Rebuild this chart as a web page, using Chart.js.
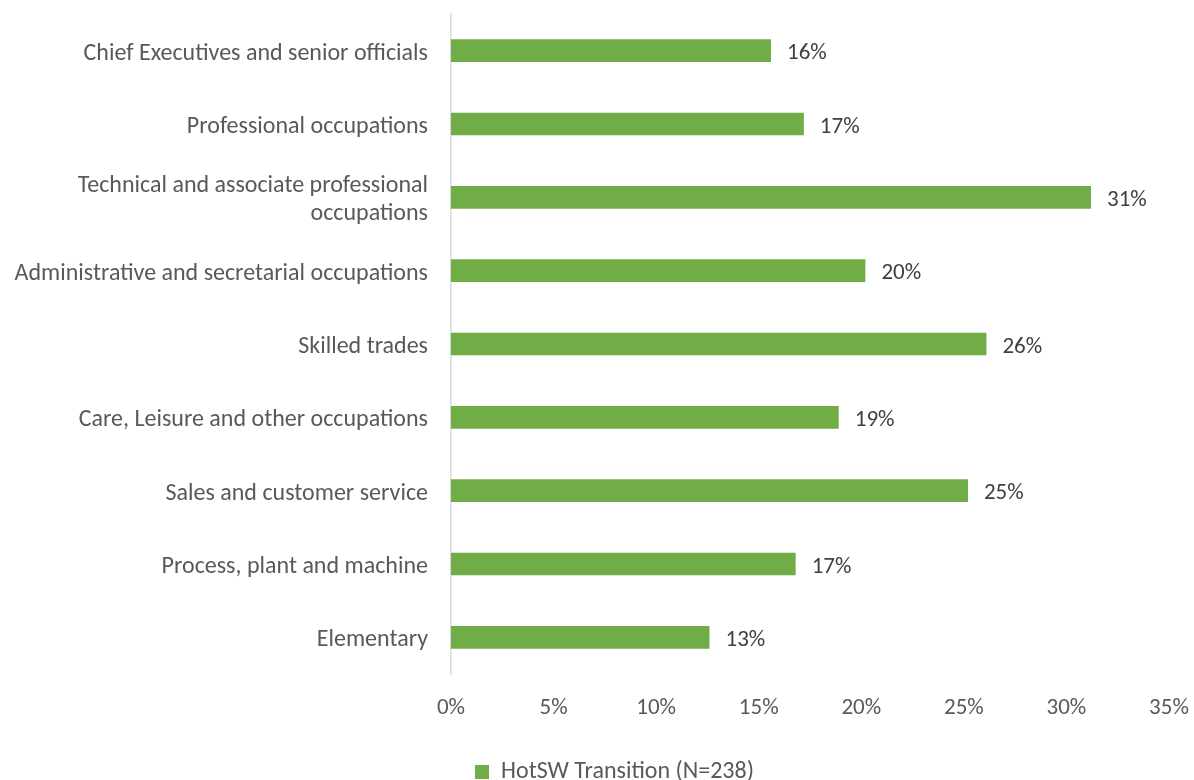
<!DOCTYPE html>
<html>
<head>
<meta charset="utf-8">
<script src="https://cdn.jsdelivr.net/npm/chart.js@4/dist/chart.umd.min.js"></script>
<style>
    html, body { margin: 0; padding: 0; background: #fff; overflow: hidden; }
    #wrap { width: 1194px; height: 794px; }
</style>
</head>
<body>
<div id="wrap"><canvas id="occupationChart"></canvas></div>
<script>
const occupations = [
    "Chief Executives and senior officials",
    "Professional occupations",
    ["Technical and associate professional", "occupations"],
    "Administrative and secretarial occupations",
    "Skilled trades",
    "Care, Leisure and other occupations",
    "Sales and customer service",
    "Process, plant and machine",
    "Elementary"
];
const transitionShare = [15.6, 17.2, 31.2, 20.2, 26.1, 18.9, 25.2, 16.8, 12.6];
const seriesName = "HotSW Transition (N=238)";
const xTicks = [0, 5, 10, 15, 20, 25, 30, 35];

const fontFamily = "Carlito, Lato, sans-serif";
const green = "#70AD47";

// percent labels just past the end of each bar
const barValueLabels = {
    id: "barValueLabels",
    afterDatasetsDraw(chart) {
        const ctx = chart.ctx;
        const meta = chart.getDatasetMeta(0);
        ctx.save();
        ctx.font = "23px " + fontFamily;
        ctx.fillStyle = "#404040";
        ctx.textAlign = "left";
        ctx.textBaseline = "middle";
        meta.data.forEach((bar, i) => {
            const v = chart.data.datasets[0].data[i];
            ctx.fillText(Math.round(v) + "%", bar.x + 16, bar.y + 3);
        });
        ctx.restore();
    }
};

// nudge the legend right so it sits under the plot
const legendShift = {
    id: "legendShift",
    afterLayout(chart) {
        chart.legend.left += 30;
        chart.legend.right += 30;
    }
};

new Chart(document.getElementById("occupationChart"), {
    type: "bar",
    data: {
        labels: occupations,
        datasets: [{
            label: seriesName,
            data: transitionShare,
            backgroundColor: green,
            borderWidth: 0,
            barPercentage: 0.31,
            categoryPercentage: 1
        }]
    },
    options: {
        indexAxis: "y",
        responsive: true,
        maintainAspectRatio: false,
        animation: false,
        layout: { padding: { top: 14, right: 25, left: 0, bottom: 0 } },
        scales: {
            x: {
                min: 0,
                max: 35,
                afterBuildTicks(scale) {
                    scale.ticks = xTicks.map(v => ({ value: v }));
                },
                afterFit(scale) {
                    scale.height = 82;
                    scale.paddingLeft = 0;
                    scale.paddingRight = 0;
                },
                grid: { display: false, drawTicks: false },
                border: { display: false },
                ticks: {
                    padding: 20,
                    color: "#595959",
                    font: { family: fontFamily, size: 23 },
                    callback: v => v + "%"
                }
            },
            y: {
                afterFit(scale) {
                    scale.width = 451;
                    scale.paddingTop = 0;
                    scale.paddingBottom = 0;
                },
                grid: { display: false, drawTicks: false },
                border: { display: true, color: "#d9d9d9", width: 1.5 },
                ticks: {
                    padding: 23,
                    labelOffset: 3,
                    color: "#595959",
                    font: { family: fontFamily, size: 24, lineHeight: 1.17 }
                }
            }
        },
        plugins: {
            legend: {
                position: "bottom",
                labels: {
                    color: "#595959",
                    font: { family: fontFamily, size: 24 },
                    boxWidth: 14,
                    boxHeight: 14,
                    padding: 4
                }
            },
            tooltip: { enabled: false }
        }
    },
    plugins: [barValueLabels, legendShift]
});
</script>
</body>
</html>
